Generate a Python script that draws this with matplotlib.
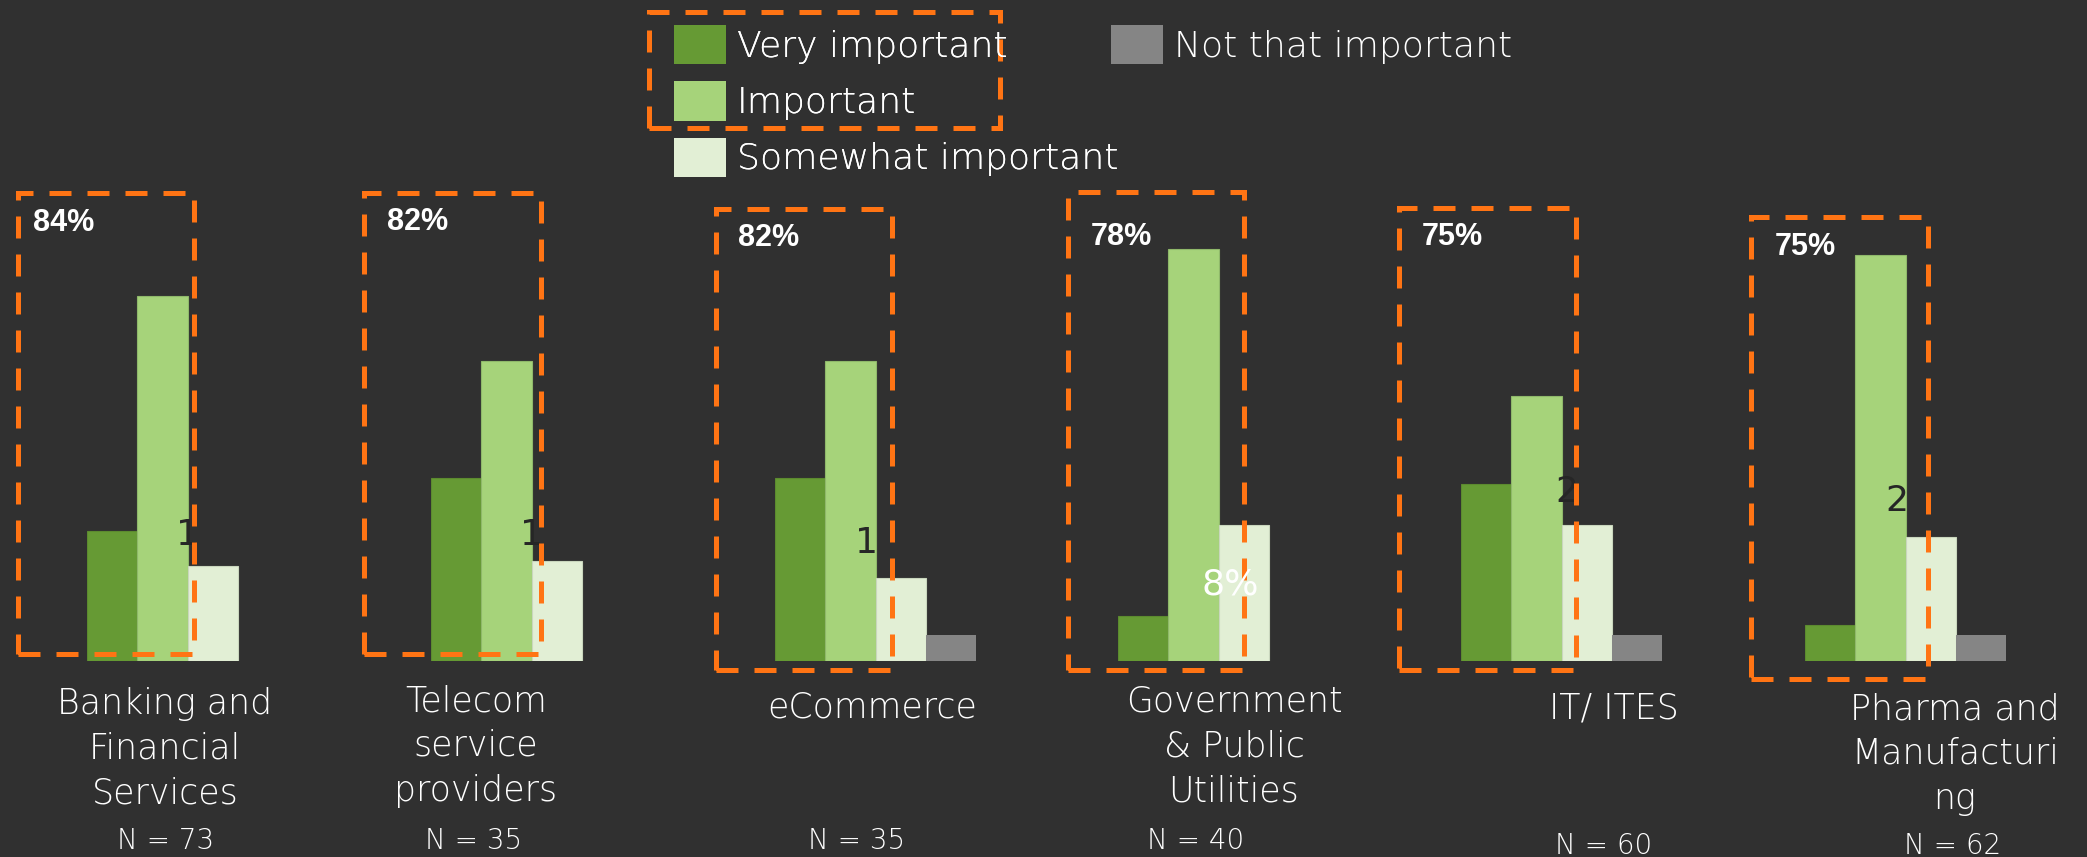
#!/usr/bin/env python3
"""
Importance rating by industry: six small grouped bar charts on a dark slide.
"""

import matplotlib
matplotlib.use("Agg")
import matplotlib.pyplot as plt
from matplotlib.patches import Patch, Rectangle

# values (percent of respondents per industry)
categories = [
    "Banking and\nFinancial\nServices",
    "Telecom\nservice\nproviders",
    "eCommerce",
    "Government\n& Public\nUtilities",
    "IT/ ITES",
    "Pharma and\nManufacturi\nng",
]
n_sizes = [73, 35, 35, 40, 60, 62]
very_important = [22, 31, 31, 7.5, 30, 6]
important = [62, 51, 51, 70, 45, 69]
somewhat_important = [16, 17, 14, 23, 23, 21]
not_that_important = [0, 0, 4.4, 0, 4.4, 4.4]
top_two_labels = ["84%", "82%", "82%", "78%", "75%", "75%"]
inner_labels = ["1", "1", "1", "8%", "2", "2"]
series_names = ["Very important", "Important", "Somewhat important", "Not that important"]

# styling
W, H = 2087, 857
BG = "#303030"
COLORS = ["#669a34", "#a6d37a", "#e2efd5", "#858585"]
EDGES = ["#5c8a2f", "#8fb86a", "#c9d6bd", "none"]
ORANGE = "#ff7414"
THIN = ["DejaVu Sans"]

# layout, in slide pixels
group_left = [87, 431, 775, 1118, 1461, 1805]   # left edge of first bar
bar_px = 50.3
baseline_px = 660.5
px_per_pct = 5.88

# dashed boxes in each small chart's data units: x0, x1, y0, y1
boxes = [
    (-1.87, 1.63, 1.1, 79.5),
    (-1.83, 1.69, 1.1, 79.5),
    (-1.67, 1.82, -1.6, 76.8),
    (-1.50, 2.00, -1.6, 79.7),
    (-1.73, 1.79, -1.6, 77.0),
    (-1.57, 1.94, -3.1, 75.5),
]
pct_pos = [(-0.96, 74.4), (-0.77, 74.6), (-0.63, 71.9), (-0.44, 72.0), (-0.68, 72.0), (-0.50, 70.4)]
# inner label: x, y, ha, colour, clipped to the "Important" bar
inner_pos = [
    (1.27, 21.3, "left", "#262626", True),
    (1.27, 21.3, "left", "#262626", True),
    (1.09, 20.0, "left", "#262626", False),
    (1.74, 13.0, "center", "white", False),
    (1.37, 28.6, "left", "#262626", True),
    (1.10, 27.2, "left", "#262626", True),
]
label_xy = [(165, 687), (476, 684), (872, 691), (1234, 685), (1614, 692), (1955, 692)]
n_xy = [(166, 849), (474, 849), (857, 849), (1196, 849), (1604, 854), (1953, 854)]


def fig_xy(x_px: float, y_px: float) -> tuple[float, float]:
    """Slide pixel (from top-left) to figure fraction."""
    return x_px / W, 1 - y_px / H


def draw_group(fig, i: int) -> None:
    """One small bar chart with its dashed box and labels."""
    left, bottom = fig_xy(group_left[i], baseline_px)
    ax = fig.add_axes([left, bottom, 4 * bar_px / W, 100 * px_per_pct / H])
    ax.set_xlim(-0.5, 3.5)
    ax.set_ylim(0, 100)
    ax.axis("off")

    values = [very_important[i], important[i], somewhat_important[i], not_that_important[i]]
    bars = ax.bar(range(4), values, width=1.0, color=COLORS, edgecolor=EDGES, linewidth=0.8)

    x0, x1, y0, y1 = boxes[i]
    ax.add_patch(Rectangle((x0, y0), x1 - x0, y1 - y0, fill=False, edgecolor=ORANGE,
                           linewidth=3.6, linestyle=(0, (4.4, 3.2)), clip_on=False, zorder=5))

    px, py = pct_pos[i]
    ax.text(px, py, top_two_labels[i], color="white", fontsize=22, fontweight="bold",
            family=["Liberation Sans", "DejaVu Sans"], ha="center", va="center", zorder=6)

    tx, ty, ha, col, clip = inner_pos[i]
    t = ax.text(tx, ty, inner_labels[i], color=col, fontsize=26, family=THIN,
                ha=ha, va="center", zorder=4 if clip else 6)
    if clip:
        t.set_clip_path(bars[1])

    lx, ly = label_xy[i]
    fig.text(*fig_xy(lx, ly), categories[i], color="white", fontsize=25, family=THIN,
             fontweight="light", ha="center", va="top", linespacing=1.4)
    nx, ny = n_xy[i]
    fig.text(*fig_xy(nx, ny), f"N = {n_sizes[i]}", color="white", fontsize=20, family=THIN,
             fontweight="light", ha="center", va="baseline")


def main() -> None:
    plt.rcParams["font.family"] = THIN
    fig = plt.figure(figsize=(W / 100, H / 100), dpi=100, facecolor=BG)

    for i in range(len(categories)):
        draw_group(fig, i)

    handles = [Patch(facecolor=c, edgecolor="none", label=s) for c, s in zip(COLORS, series_names)]
    common = dict(frameon=False, labelcolor="white", handlelength=1.44, handleheight=1.3,
                  handletextpad=0.3, borderpad=0, borderaxespad=0, labelspacing=0.47,
                  prop={"family": THIN, "weight": "light", "size": 26})
    leg1 = fig.legend(handles=handles[:3], loc="upper left",
                      bbox_to_anchor=fig_xy(674, 25), **common)
    fig.legend(handles=handles[3:], loc="upper left", bbox_to_anchor=fig_xy(1111, 25), **common)
    fig.add_artist(leg1)

    # dashed box around the first two legend entries
    x0, y0 = fig_xy(649, 128)
    x1, y1 = fig_xy(1000, 12)
    fig.add_artist(Rectangle((x0, y0), x1 - x0, y1 - y0, transform=fig.transFigure, fill=False,
                             edgecolor=ORANGE, linewidth=3.6, linestyle=(0, (4.4, 3.2))))

    fig.savefig("out.png", dpi=100, facecolor=BG)


if __name__ == "__main__":
    main()
